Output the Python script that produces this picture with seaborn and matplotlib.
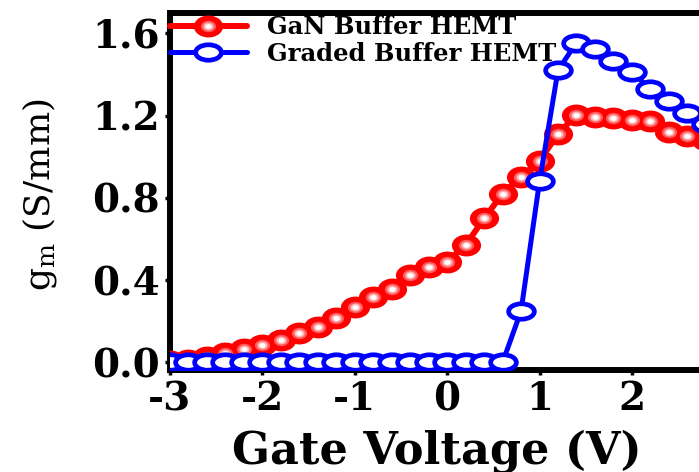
import matplotlib
matplotlib.use("Agg")
import matplotlib.pyplot as plt
from matplotlib.path import Path
from matplotlib.transforms import Affine2D
from matplotlib.legend_handler import HandlerTuple
from matplotlib.font_manager import FontProperties
import seaborn as sns

# Gate sweep (V) and transconductance (S/mm) of the two devices
gate_voltage = [-3.0, -2.8, -2.6, -2.4, -2.2, -2.0, -1.8, -1.6, -1.4, -1.2, -1.0,
                -0.8, -0.6, -0.4, -0.2, 0.0, 0.2, 0.4, 0.6, 0.8, 1.0,
                1.2, 1.4, 1.6, 1.8, 2.0, 2.2, 2.4, 2.6, 2.8, 3.0]
gm_gan_buffer = [0.005, 0.01, 0.025, 0.045, 0.066, 0.084, 0.108, 0.141, 0.173, 0.214, 0.27,
                 0.32, 0.355, 0.425, 0.465, 0.49, 0.57, 0.70, 0.82, 0.90, 0.98,
                 1.11, 1.205, 1.195, 1.19, 1.18, 1.175, 1.12, 1.10, 1.08, 1.06]
gm_graded_buffer = [0.0, 0.0, 0.0, 0.0, 0.0, 0.0, 0.0, 0.0, 0.0, 0.0, 0.0,
                    0.0, 0.0, 0.0, 0.0, 0.0, 0.0, 0.0, 0.0, 0.25, 0.88,
                    1.42, 1.555, 1.525, 1.465, 1.41, 1.33, 1.27, 1.21, 1.16, 1.12]
series_labels = ["GaN Buffer HEMT", "Graded Buffer HEMT"]
x_ticks = [-3, -2, -1, 0, 1, 2]
y_ticks = [0.0, 0.4, 0.8, 1.2, 1.6]

RED = "#ff0000"
BLUE = "#0000ff"

sns.set_style("ticks")
plt.rcParams["font.family"] = ["DejaVu Serif", "DejaVu Sans"]
plt.rcParams["mathtext.fontset"] = "dejavuserif"
plt.rcParams["axes.unicode_minus"] = False
for key in ["text.color", "axes.labelcolor", "xtick.color", "ytick.color",
            "xtick.labelcolor", "ytick.labelcolor"]:
    plt.rcParams[key] = "black"


def oval(ratio):
    """Flattened circle used as a marker shape."""
    return Path.unit_circle().transformed(Affine2D().scale(1.0, ratio))


fig = plt.figure(figsize=(6.99, 4.72), dpi=100)
ax = fig.add_axes([0.2432, 0.2161, 0.793, 0.757])

# GaN buffer: solid red beads with a light highlight in the middle
sns.lineplot(x=gate_voltage, y=gm_gan_buffer, ax=ax, color=RED, lw=4.3,
             marker=oval(0.75), markersize=21, markerfacecolor=RED,
             markeredgecolor=RED, markeredgewidth=0, zorder=3)
red_line = ax.lines[-1]
shine = []
for col, ms in [("#ff5a5a", 11), ("#ffb4b4", 7.5), ("#ffffff", 4.5)]:
    sns.lineplot(x=gate_voltage, y=gm_gan_buffer, ax=ax, color=col, linestyle="none",
                 marker=oval(0.75), markersize=ms, markerfacecolor=col,
                 markeredgecolor=col, markeredgewidth=0, zorder=3.1)
    shine.append(ax.lines[-1])

# Graded buffer: open blue circles
sns.lineplot(x=gate_voltage, y=gm_graded_buffer, ax=ax, color=BLUE, lw=3.6,
             marker=oval(0.6), markersize=18.5, markerfacecolor="white",
             markeredgecolor=BLUE, markeredgewidth=3.4, zorder=4)
blue_line = ax.lines[-1]

ax.set_xlim(-3.0, 3.0)
ax.set_ylim(-0.037, 1.70)
ax.set_xticks(x_ticks)
ax.set_xticklabels([f"{t:d}" for t in x_ticks])
ax.set_yticks(y_ticks)
ax.set_yticklabels([f"{t:.1f}" for t in y_ticks])

for side in ["left", "bottom", "top", "right"]:
    ax.spines[side].set_linewidth(4.3)
    ax.spines[side].set_color("black")

ax.tick_params(direction="out", length=3.5, width=2.5, color="black",
               labelcolor="black", labelsize=28, pad=4)
for lab in ax.get_xticklabels() + ax.get_yticklabels():
    lab.set_fontweight("bold")

ax.set_xlabel("Gate Voltage (V)", fontsize=32, fontweight="bold", color="black")
ax.xaxis.set_label_coords(0.4816, -0.165)
ax.set_ylabel(r"$\mathregular{g_m}$ (S/mm)", fontsize=26, color="black")
ax.yaxis.set_label_coords(-0.20, 0.49)

ax.legend(handles=[tuple([red_line] + shine), blue_line], labels=series_labels,
          handler_map={tuple: HandlerTuple(ndivide=1, pad=0)},
          loc="upper left", bbox_to_anchor=(0.0, 0.993), frameon=False,
          borderaxespad=0.0, borderpad=0.0, handlelength=3.15,
          handletextpad=0.85, labelspacing=0.1,
          prop=FontProperties(family="DejaVu Serif", weight="bold", size=17.5))

fig.savefig("out.png", dpi=100)
